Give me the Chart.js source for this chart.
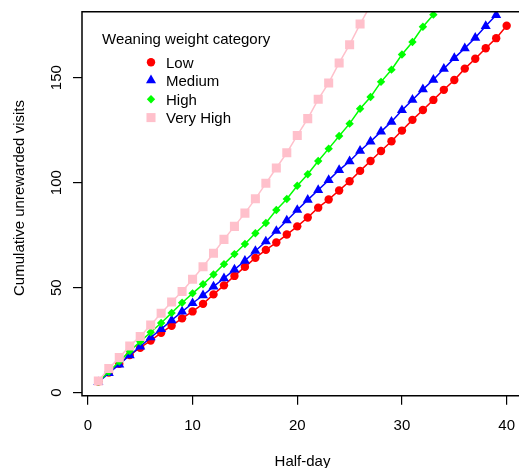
<!DOCTYPE html>
<html><head><meta charset="utf-8">
<script src="https://cdn.jsdelivr.net/npm/chart.js@4/dist/chart.umd.min.js"></script>
<style>
html,body{margin:0;padding:0;background:#fff;overflow:hidden;width:519px;height:468px}
#wrap{position:absolute;left:0;top:0;width:523px;height:468px}
</style></head><body>
<div id="wrap"><canvas id="c" width="523" height="468"></canvas></div>
<script>
const halfDays = Array.from({length: 40}, (_, i) => i + 1);
const low = [5.3, 9.6, 13.8, 17.9, 21.4, 24.8, 28.5, 31.9, 35.4, 38.7, 42.3, 46.8, 51.1, 55.6, 59.9, 64.2, 68.0, 71.5, 75.3, 79.2, 83.4, 88.1, 92.0, 96.3, 100.7, 105.6, 110.3, 115.1, 119.7, 124.8, 129.9, 134.6, 139.4, 144.2, 148.9, 154.3, 159.0, 164.0, 168.8, 174.7];
const medium = [5.0, 9.3, 13.4, 17.8, 22.0, 26.3, 30.3, 34.5, 38.6, 42.6, 46.4, 50.5, 54.5, 58.6, 62.8, 67.5, 72.0, 77.0, 82.0, 87.0, 91.8, 96.5, 101.2, 106.0, 110.2, 115.2, 119.6, 124.3, 129.0, 134.5, 139.4, 144.4, 149.0, 154.2, 159.3, 164.0, 169.0, 174.6, 179.8];
const high = [5.2, 10.0, 14.8, 19.8, 24.3, 28.8, 33.2, 38.0, 42.8, 47.3, 51.6, 56.3, 61.2, 66.0, 70.8, 75.9, 80.8, 87.0, 92.2, 98.5, 104.0, 110.3, 116.2, 122.2, 128.1, 135.2, 140.8, 148.0, 153.8, 161.0, 167.0, 174.2, 180.0];
const veryHigh = [5.6, 11.5, 16.7, 22.2, 26.8, 32.2, 37.8, 43.2, 48.2, 54.0, 60.0, 66.4, 73.0, 79.2, 85.5, 92.3, 99.7, 107.0, 114.2, 122.5, 130.5, 139.7, 147.5, 157.0, 165.7, 175.5, 184.5];
const seriesNames = ['Low', 'Medium', 'High', 'Very High'];
const xTicks = [0, 10, 20, 30, 40];
const yTicks = [0, 50, 100, 150];
const legendTitle = 'Weaning weight category';
const xTitle = 'Half-day';
const yTitle = 'Cumulative unrewarded visits';

const FONT = '15px "Liberation Sans", Arial, Helvetica, sans-serif';
const styles = [
  {color: '#FF0000', pointStyle: 'circle', radius: 4.2},
  {color: '#0000FF', pointStyle: 'triangle', radius: 5.8},
  {color: '#00FF00', pointStyle: 'rectRot', radius: 4.2},
  {color: '#FFC0CB', pointStyle: 'rect', radius: 6.4}
];
const seriesValues = [low, medium, high, veryHigh];

const datasets = seriesValues.map((vals, i) => ({
  label: seriesNames[i],
  data: vals.map((v, j) => ({x: halfDays[j], y: v})),
  borderColor: styles[i].color,
  backgroundColor: styles[i].color,
  pointBackgroundColor: styles[i].color,
  pointBorderWidth: 0,
  pointStyle: styles[i].pointStyle,
  pointRadius: styles[i].radius,
  borderWidth: 1.5,
  tension: 0,
  clip: 0,
  order: 4 - i
}));

function drawSymbol(ctx, st, x, y) {
  ctx.save();
  ctx.fillStyle = st.color;
  ctx.beginPath();
  const r = st.radius;
  if (st.pointStyle === 'circle') {
    ctx.arc(x, y, r, 0, Math.PI * 2);
  } else if (st.pointStyle === 'triangle') {
    for (let k = 0; k < 3; k++) {
      const a = k * 2 * Math.PI / 3;
      const px = x + Math.sin(a) * r, py = y - Math.cos(a) * r;
      k ? ctx.lineTo(px, py) : ctx.moveTo(px, py);
    }
    ctx.closePath();
  } else if (st.pointStyle === 'rectRot') {
    ctx.moveTo(x - r, y); ctx.lineTo(x, y - r); ctx.lineTo(x + r, y); ctx.lineTo(x, y + r); ctx.closePath();
  } else {
    const s = Math.SQRT1_2 * r;
    ctx.rect(x - s, y - s, 2 * s, 2 * s);
  }
  ctx.fill();
  ctx.restore();
}

const decor = {
  id: 'decor',
  afterDraw(chart) {
    const ctx = chart.ctx;
    const a = chart.chartArea;
    const xs = chart.scales.x, ys = chart.scales.y;
    ctx.save();
    ctx.strokeStyle = '#000';
    ctx.lineWidth = 1.5;
    ctx.beginPath();
    ctx.moveTo(a.right + 2, a.top);
    ctx.lineTo(a.left, a.top);
    ctx.lineTo(a.left, a.bottom);
    ctx.lineTo(a.right + 2, a.bottom);
    ctx.stroke();
    ctx.fillStyle = '#000';
    ctx.font = FONT;
    ctx.textAlign = 'center';
    ctx.textBaseline = 'alphabetic';
    xTicks.forEach(v => ctx.fillText(String(v), xs.getPixelForValue(v), 430));
    yTicks.forEach(v => {
      ctx.save();
      ctx.translate(61, ys.getPixelForValue(v));
      ctx.rotate(-Math.PI / 2);
      ctx.textAlign = 'center';
      ctx.fillText(String(v), 0, 0);
      ctx.restore();
    });
    ctx.textAlign = 'center';
    ctx.fillText(xTitle, (a.left + a.right) / 2, 466);
    ctx.save();
    ctx.translate(24, 198);
    ctx.rotate(-Math.PI / 2);
    ctx.fillText(yTitle, 0, 0);
    ctx.restore();
    ctx.textAlign = 'left';
    ctx.fillText(legendTitle, 102, 43.5);
    const baseY = [67.7, 86.2, 104.7, 123.2];
    const symY = [62.3, 80.3, 99.2, 117.6];
    seriesNames.forEach((n, i) => {
      drawSymbol(ctx, styles[i], 151, symY[i]);
      ctx.fillStyle = '#000';
      ctx.fillText(n, 166, baseY[i]);
    });
    ctx.restore();
  }
};

new Chart(document.getElementById('c'), {
  type: 'line',
  data: {datasets},
  options: {
    responsive: false,
    animation: false,
    events: [],
    layout: {autoPadding: false, padding: {top: 11.7, left: 0, right: 0, bottom: 0}},
    plugins: {legend: {display: false}, tooltip: {enabled: false}},
    scales: {
      x: {
        type: 'linear', min: -0.56, max: 41.56,
        afterBuildTicks: s => { s.ticks = xTicks.map(v => ({value: v})); },
        afterFit: s => { s.height = 468 - 395.7; },
        ticks: {display: false},
        grid: {drawOnChartArea: false, drawTicks: true, tickLength: 9, color: '#000', lineWidth: 1.2},
        border: {display: false}
      },
      y: {
        type: 'linear', min: -1.43, max: 181.4,
        afterBuildTicks: s => { s.ticks = yTicks.map(v => ({value: v})); },
        afterFit: s => { s.width = 82; },
        ticks: {display: false},
        grid: {drawOnChartArea: false, drawTicks: true, tickLength: 9, color: '#000', lineWidth: 1.2},
        border: {display: false}
      }
    }
  },
  plugins: [decor]
});
</script>
</body></html>
